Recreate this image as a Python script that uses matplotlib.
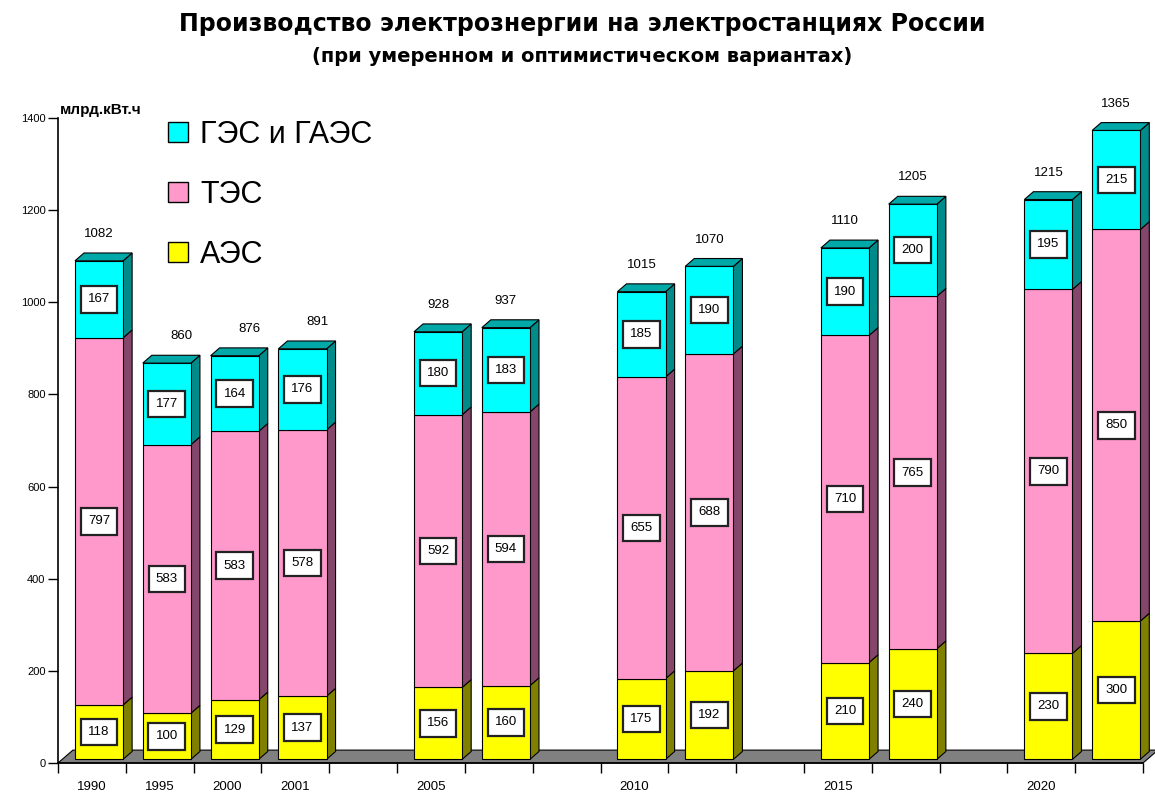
import matplotlib
matplotlib.use('Agg')
import matplotlib.pyplot as plt
from matplotlib.patches import Polygon, Rectangle, Patch

plt.rcParams['font.family'] = ['Liberation Sans', 'DejaVu Sans']

# данные (млрд. кВт.ч)
years = ['1990', '1995', '2000', '2001', '2005', '', '2010', '', '2015', '', '2020', '']
slots = [0, 1, 2, 3, 5, 6, 8, 9, 11, 12, 14, 15]
aes = [118, 100, 129, 137, 156, 160, 175, 192, 210, 240, 230, 300]
tes = [797, 583, 583, 578, 592, 594, 655, 688, 710, 765, 790, 850]
ges = [167, 177, 164, 176, 180, 183, 185, 190, 190, 200, 195, 215]
totals = [1082, 860, 876, 891, 928, 937, 1015, 1070, 1110, 1205, 1215, 1365]
names = ['АЭС', 'ТЭС', 'ГЭС и ГАЭС']

# цвета: лицевая грань, боковая, верхняя
front_c = ['#FFFF00', '#FF99CC', '#00FFFF']
side_c = ['#808000', '#84466A', '#008B8B']
top_c = ['#A0A000', '#B06690', '#00A8A8']

W, H = 1155, 796
fig = plt.figure(figsize=(W / 100, H / 100), dpi=100)
ax = fig.add_axes([58 / W, 33 / H, 1085 / W, 645 / H])
ax.set_xlim(0, 16)
ax.set_ylim(0, 1400)

# псевдо-3D параметры
bar_l, bar_w = 0.25, 0.71
dx, dy = 0.133, 17
base = 8
fdx, fdy = 0.22, 28

# пол
ax.add_patch(Polygon([(0, 0), (16, 0), (16 + fdx, fdy), (fdx, fdy)], closed=True,
                     fc='#808080', ec='black', lw=0.8, zorder=1, clip_on=False))

for i, s in enumerate(slots):
    x0 = s + bar_l
    x1 = x0 + bar_w
    y = base
    for k, vals in enumerate([aes, tes, ges]):
        v = vals[i]
        ax.add_patch(Polygon([(x1, y), (x1 + dx, y + dy), (x1 + dx, y + v + dy), (x1, y + v)],
                             closed=True, fc=side_c[k], ec='black', lw=0.8, zorder=2, clip_on=False))
        ax.add_patch(Rectangle((x0, y), bar_w, v, fc=front_c[k], ec='black', lw=0.8,
                               zorder=3, clip_on=False))
        ax.text(x0 + bar_w / 2, y + v / 2, str(v), ha='center', va='center', fontsize=9.5,
                zorder=6, bbox=dict(boxstyle='square,pad=0.55', fc='white', ec='#222222', lw=1.6))
        y += v
    ax.add_patch(Polygon([(x0, y), (x1, y), (x1 + dx, y + dy), (x0 + dx, y + dy)],
                         closed=True, fc=top_c[2], ec='black', lw=0.8, zorder=3, clip_on=False))
    shift = 0.22 if i in (1, 2, 3) else 0
    ax.text(x0 + bar_w / 2 + shift, base + totals[i] + 58, str(totals[i]),
            ha='center', va='center', fontsize=9.5, zorder=6)

# оси
for sp in ['top', 'right']:
    ax.spines[sp].set_visible(False)
ax.spines['left'].set_linewidth(1.2)
ax.spines['bottom'].set_linewidth(1.2)
ax.set_yticks(range(0, 1401, 200))
ax.tick_params(axis='y', direction='out', length=7, width=1, labelsize=8, pad=2)
ax.set_xticks(range(17))
ax.set_xticklabels([])
ax.tick_params(axis='x', which='major', direction='out', length=7, width=1)
lab_pos = [slots[i] + 0.5 for i in range(len(slots)) if years[i]]
ax.set_xticks(lab_pos, minor=True)
ax.set_xticklabels([y for y in years if y], minor=True)
ax.tick_params(axis='x', which='minor', length=0, pad=13, labelsize=9.5)

fig.text(60 / W, 1 - 110 / H, 'млрд.кВт.ч', fontsize=11, weight='bold', va='center')

fig.text(582 / W, 1 - 24 / H, 'Производство электрознергии на электростанциях России',
         ha='center', va='center', fontsize=17, weight='bold', family='DejaVu Sans')
fig.text(582 / W, 1 - 57 / H, '(при умеренном и оптимистическом вариантах)',
         ha='center', va='center', fontsize=14, weight='bold', family='DejaVu Sans')

handles = [Patch(fc=front_c[k], ec='black', lw=1) for k in (2, 1, 0)]
fig.legend(handles, [names[k] for k in (2, 1, 0)], loc='upper left',
           bbox_to_anchor=(168 / W, 1 - 120 / H), fontsize=22, frameon=False,
           handlelength=0.65, handleheight=0.65, handletextpad=0.4,
           labelspacing=0.98, borderpad=0, borderaxespad=0)

fig.savefig('out.png', dpi=100)
